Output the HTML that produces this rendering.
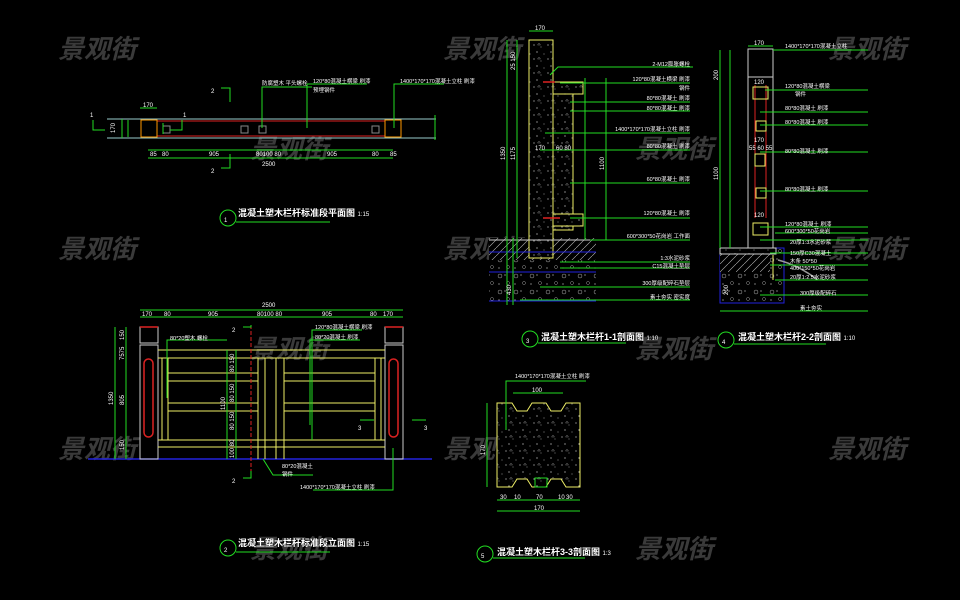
<!DOCTYPE html>
<html><head><meta charset="utf-8"><style>
html,body{margin:0;padding:0;background:#000;width:960px;height:600px;overflow:hidden}
svg{display:block}
text{font-family:"Liberation Sans","Noto Sans CJK SC",sans-serif}
.wm{font-size:26px;fill:#6a6a6a;fill-opacity:.55;font-style:italic;font-weight:bold;font-family:"Liberation Sans","Noto Sans CJK SC",sans-serif}
.t{font-size:5.5px;fill:#fff}
.d{font-size:6px;fill:#fff}
.ti{font-size:9px;fill:#fff;font-weight:bold}
</style></head><body>
<svg width="960" height="600" viewBox="0 0 960 600" xmlns="http://www.w3.org/2000/svg">
<defs>
<pattern id="sp" width="14" height="14" patternUnits="userSpaceOnUse">
<rect width="14" height="14" fill="#000"/>
<circle cx="2" cy="3" r=".6" fill="#ccc"/><circle cx="9" cy="5" r=".5" fill="#aaa"/>
<circle cx="5" cy="10" r=".6" fill="#ddd"/><circle cx="12" cy="12" r=".5" fill="#bbb"/>
<path d="M7 1 l1.5 2 h-3z" fill="none" stroke="#999" stroke-width=".4"/>
</pattern>
<pattern id="gr" width="16" height="16" patternUnits="userSpaceOnUse">
<rect width="16" height="16" fill="#000"/>
<circle cx="4" cy="4" r="2" fill="none" stroke="#aaa" stroke-width=".5"/>
<circle cx="12" cy="11" r="1.5" fill="none" stroke="#999" stroke-width=".5"/>
<circle cx="9" cy="3" r=".6" fill="#ccc"/><circle cx="3" cy="12" r=".6" fill="#ccc"/>
</pattern>
<pattern id="hx" width="8" height="8" patternUnits="userSpaceOnUse">
<rect width="8" height="8" fill="#000"/><path d="M0 8 L8 0" stroke="#bbb" stroke-width=".6"/>
</pattern>
</defs>

<!-- watermarks -->
<g class="wm">
<text x="58" y="58">景观街</text><text x="443" y="58">景观街</text><text x="828" y="58">景观街</text>
<text x="250" y="158">景观街</text><text x="635" y="158">景观街</text>
<text x="58" y="258">景观街</text><text x="443" y="258">景观街</text><text x="828" y="258">景观街</text>
<text x="250" y="358">景观街</text><text x="635" y="358">景观街</text>
<text x="58" y="458">景观街</text><text x="443" y="458">景观街</text><text x="828" y="458">景观街</text>
<text x="250" y="558">景观街</text><text x="635" y="558">景观街</text>
</g>

<!-- ===== Drawing 1: plan ===== -->
<g fill="none" stroke-width="1">
<line x1="107" y1="119" x2="436" y2="119" stroke="#9cc"/>
<line x1="107" y1="138" x2="436" y2="138" stroke="#9cc"/>
<rect x="157" y="121" width="228" height="15" stroke="#d22"/>
<rect x="141" y="120" width="16" height="17" stroke="#f90"/>
<rect x="385" y="120" width="16" height="17" stroke="#f90"/>
<rect x="163" y="126" width="7" height="7" stroke="#888"/>
<rect x="241" y="126" width="7" height="7" stroke="#888"/>
<rect x="259" y="126" width="7" height="7" stroke="#888"/>
<rect x="372" y="126" width="7" height="7" stroke="#888"/>
<g stroke="#2d2">
<path d="M93 120 v10 h12"/><path d="M170 130 h12 v-10"/>
<path d="M221 88 h9 v14"/><path d="M221 168 h9 v-14"/>
<line x1="148" y1="150" x2="393" y2="150"/><line x1="148" y1="158" x2="393" y2="158"/>
<line x1="140" y1="108" x2="157" y2="108"/>
<line x1="122" y1="119" x2="122" y2="138"/><line x1="128" y1="120" x2="128" y2="137"/>
<path d="M262 128 V87 h50"/><path d="M307 128 V84 h60"/><path d="M394 128 V84 h50"/>
<line x1="163" y1="123" x2="163" y2="134"/>
<line x1="435" y1="115" x2="435" y2="140"/>
</g>
<circle cx="228" cy="218" r="8" stroke="#2d2"/>
<line x1="236" y1="222" x2="330" y2="222" stroke="#2d2"/>
</g>
<g class="d">
<text x="90" y="117">1</text><text x="183" y="117">1</text><text x="211" y="93">2</text><text x="211" y="173">2</text>
<text x="143" y="107">170</text><text x="115" y="133" transform="rotate(-90 115 133)">170</text>
<text x="150" y="156">85</text><text x="162" y="156">80</text><text x="209" y="156">905</text>
<text x="256" y="156">80100 80</text><text x="327" y="156">905</text><text x="372" y="156">80</text><text x="390" y="156">85</text>
<text x="262" y="166">2500</text>
</g>
<g class="t"><text x="262" y="85">防腐塑木 平头螺栓</text><text x="313" y="83">120*80混凝土横梁 刷漆</text><text x="313" y="92">预埋钢件</text><text x="400" y="83">1400*170*170混凝土立柱 刷漆</text></g>
<text class="ti" x="238" y="216">混凝土塑木栏杆标准段平面图 <tspan font-size="6" font-weight="normal">1:15</tspan></text>
<text class="d" x="224" y="222" font-size="11">1</text>

<!-- ===== Drawing 2: elevation ===== -->
<g fill="none" stroke-width="1">
<line x1="88" y1="459" x2="432" y2="459" stroke="#22d" stroke-width="1.5"/>
<rect x="140" y="327" width="18" height="16" stroke="#ccc"/>
<line x1="140" y1="327" x2="158" y2="327" stroke="#d22" stroke-width="1.5"/>
<rect x="385" y="327" width="18" height="16" stroke="#ccc"/>
<line x1="385" y1="327" x2="403" y2="327" stroke="#d22" stroke-width="1.5"/>
<rect x="140" y="345" width="18" height="114" stroke="#ccc"/>
<rect x="385" y="345" width="18" height="114" stroke="#ccc"/>
<rect x="144" y="359" width="9" height="78" rx="4.5" stroke="#d22" stroke-width="1.5"/>
<rect x="389" y="359" width="9" height="78" rx="4.5" stroke="#d22" stroke-width="1.5"/>
<g stroke="#ee6">
<line x1="158" y1="350" x2="385" y2="350"/><line x1="158" y1="358" x2="385" y2="358"/>
<line x1="168" y1="373" x2="258" y2="373"/><line x1="284" y1="373" x2="375" y2="373"/>
<line x1="168" y1="381" x2="258" y2="381"/><line x1="284" y1="381" x2="375" y2="381"/>
<line x1="168" y1="403" x2="258" y2="403"/><line x1="284" y1="403" x2="375" y2="403"/>
<line x1="168" y1="411" x2="258" y2="411"/><line x1="284" y1="411" x2="375" y2="411"/>
<line x1="158" y1="440" x2="385" y2="440"/><line x1="158" y1="447" x2="385" y2="447"/>
<line x1="162" y1="358" x2="162" y2="440"/><line x1="168" y1="358" x2="168" y2="440"/>
<line x1="258" y1="358" x2="258" y2="459"/><line x1="265" y1="358" x2="265" y2="459"/>
<line x1="276" y1="358" x2="276" y2="459"/><line x1="284" y1="358" x2="284" y2="459"/>
<line x1="375" y1="358" x2="375" y2="440"/><line x1="381" y1="358" x2="381" y2="440"/>
</g>
<line x1="251" y1="325" x2="251" y2="478" stroke="#d22" stroke-dasharray="4 2"/>
<g stroke="#2d2">
<path d="M243 327 h8 v-2"/><path d="M243 478 h8 v-7"/>
<path d="M360 420 h14"/><path d="M412 420 h14"/>
<line x1="140" y1="317" x2="403" y2="317"/><line x1="140" y1="310" x2="403" y2="310"/>
<line x1="115" y1="327" x2="115" y2="459"/><line x1="126" y1="327" x2="126" y2="459"/>
<line x1="227" y1="350" x2="227" y2="459"/><line x1="236" y1="350" x2="236" y2="459"/>
<path d="M167 398 V340 h60"/><path d="M312 440 V330 h50"/><path d="M310 425 V340 h50"/>
<path d="M263 459 l10 16 h40"/><path d="M393 448 V490 h-80"/>
</g>
<circle cx="228" cy="548" r="8" stroke="#2d2"/>
<line x1="236" y1="552" x2="330" y2="552" stroke="#2d2"/>
</g>
<g class="d">
<text x="262" y="307">2500</text><text x="142" y="316">170</text><text x="164" y="316">80</text><text x="208" y="316">905</text>
<text x="257" y="316">80100 80</text><text x="322" y="316">905</text><text x="370" y="316">80</text><text x="383" y="316">170</text>
<text x="232" y="332">2</text><text x="232" y="483">2</text><text x="358" y="430">3</text><text x="424" y="430">3</text>
<text x="113" y="405" transform="rotate(-90 113 405)">1350</text>
<text x="124" y="405" transform="rotate(-90 124 405)">805</text>
<text x="124" y="340" transform="rotate(-90 124 340)">150</text>
<text x="124" y="360" transform="rotate(-90 124 360)">7575</text>
<text x="124" y="450" transform="rotate(-90 124 450)">150</text>
<text x="225" y="410" transform="rotate(-90 225 410)">1100</text>
<text x="234" y="372" transform="rotate(-90 234 372)">80 150</text>
<text x="234" y="402" transform="rotate(-90 234 402)">80 150</text>
<text x="234" y="430" transform="rotate(-90 234 430)">80 150</text>
<text x="234" y="458" transform="rotate(-90 234 458)">100 80</text>
</g>
<g class="t"><text x="170" y="340">80*20塑木 螺栓</text><text x="315" y="329">120*80混凝土横梁 刷漆</text><text x="315" y="339">80*20混凝土 刷漆</text>
<text x="282" y="468">80*20混凝土</text><text x="282" y="476">钢件</text><text x="300" y="489">1400*170*170混凝土立柱 刷漆</text></g>
<text class="ti" x="238" y="546">混凝土塑木栏杆标准段立面图 <tspan font-size="6" font-weight="normal">1:15</tspan></text>
<text class="d" x="224" y="552" font-size="11">2</text>

<!-- ===== Drawing 3: section 1-1 ===== -->
<g fill="none" stroke-width="1">
<rect x="489" y="238" width="107" height="66" fill="url(#gr)"/>
<rect x="489" y="238" width="107" height="22" fill="url(#hx)"/>
<rect x="529" y="40" width="24" height="218" fill="url(#sp)" stroke="#ee6"/>
<rect x="553" y="82" width="20" height="148" fill="url(#sp)" stroke="#ee6"/>
<rect x="553" y="82" width="30" height="12" fill="url(#sp)" stroke="#ee6"/>
<rect x="553" y="214" width="30" height="12" fill="url(#sp)" stroke="#ee6"/>
<line x1="543" y1="82" x2="555" y2="82" stroke="#d22" stroke-width="1.5"/>
<line x1="543" y1="218" x2="560" y2="218" stroke="#d22" stroke-width="1.5"/>
<line x1="489" y1="240" x2="596" y2="240" stroke="#ccc"/>
<line x1="489" y1="252" x2="596" y2="252" stroke="#22d"/>
<line x1="489" y1="272" x2="596" y2="272" stroke="#22d"/>
<line x1="489" y1="301" x2="596" y2="301" stroke="#22d"/>
<g stroke="#2d2">
<line x1="529" y1="31" x2="553" y2="31"/>
<line x1="507" y1="40" x2="507" y2="305"/><line x1="517" y1="40" x2="517" y2="258"/><line x1="513" y1="238" x2="513" y2="305"/>
<line x1="585" y1="78" x2="585" y2="240"/><line x1="606" y1="78" x2="606" y2="240"/>
<path d="M550 75 l8-8 h135"/>
<line x1="560" y1="83" x2="690" y2="83"/><line x1="570" y1="102" x2="690" y2="102"/>
<line x1="570" y1="111" x2="690" y2="111"/><line x1="545" y1="133" x2="690" y2="133"/>
<line x1="540" y1="150" x2="690" y2="150"/><line x1="570" y1="183" x2="690" y2="183"/>
<line x1="570" y1="218" x2="690" y2="218"/><line x1="590" y1="240" x2="690" y2="240"/>
<line x1="560" y1="262" x2="690" y2="262"/><line x1="560" y1="268" x2="690" y2="268"/>
<line x1="540" y1="287" x2="690" y2="287"/><line x1="520" y1="300" x2="690" y2="300"/>
</g>
<circle cx="530" cy="339" r="8" stroke="#2d2"/>
<line x1="538" y1="343" x2="626" y2="343" stroke="#2d2"/>
</g>
<g class="d">
<text x="535" y="30">170</text>
<text x="505" y="160" transform="rotate(-90 505 160)">1350</text>
<text x="515" y="160" transform="rotate(-90 515 160)">1175</text>
<text x="604" y="170" transform="rotate(-90 604 170)">1100</text>
<text x="535" y="150">170</text><text x="556" y="150">60 80</text>
<text x="515" y="70" transform="rotate(-90 515 70)">25 150</text>
<text x="511" y="295" transform="rotate(-90 511 295)">430</text>
</g>
<g class="t" text-anchor="end">
<text x="690" y="66">2-M12膨胀螺栓</text><text x="690" y="81">120*80混凝土横梁 刷漆</text><text x="690" y="90">钢件</text>
<text x="690" y="100">80*80混凝土 刷漆</text><text x="690" y="110">80*80混凝土 刷漆</text><text x="690" y="131">1400*170*170混凝土立柱 刷漆</text>
<text x="690" y="148">80*80混凝土 刷漆</text><text x="690" y="181">60*80混凝土 刷漆</text><text x="690" y="215">120*80混凝土 刷漆</text>
<text x="690" y="238">600*300*50花岗岩 工作面</text><text x="690" y="260">1:3水泥砂浆</text><text x="690" y="268">C15混凝土垫层</text>
<text x="690" y="285">300厚级配碎石垫层</text><text x="690" y="299">素土夯实 密实度</text>
</g>
<text class="ti" x="541" y="340">混凝土塑木栏杆1-1剖面图 <tspan font-size="6" font-weight="normal">1:10</tspan></text>
<text class="d" x="526" y="343" font-size="11">3</text>

<!-- ===== Drawing 4: section 2-2 ===== -->
<g fill="none" stroke-width="1">
<rect x="720" y="248" width="64" height="55" fill="url(#gr)" stroke="#22d"/>
<rect x="720" y="250" width="50" height="22" fill="url(#hx)"/>
<rect x="720" y="248" width="56" height="6" fill="url(#sp)" stroke="#ccc"/>
<rect x="748" y="49" width="25" height="28" stroke="#ccc"/>
<rect x="748" y="77" width="25" height="171" stroke="#ccc"/>
<line x1="755" y1="85" x2="755" y2="218" stroke="#d22"/><line x1="766" y1="85" x2="766" y2="218" stroke="#d22"/>
<rect x="753" y="87" width="15" height="12" stroke="#ee6"/>
<rect x="756" y="121" width="10" height="10" stroke="#ee6"/>
<rect x="755" y="154" width="10" height="12" stroke="#ee6"/>
<rect x="756" y="188" width="10" height="10" stroke="#ee6"/>
<rect x="753" y="223" width="15" height="12" stroke="#ee6"/>
<line x1="773" y1="255" x2="773" y2="280" stroke="#ee6"/>
<path d="M778 260 q20 5 40 20" stroke="#999" stroke-width="1.5"/>
<g stroke="#2d2">
<line x1="748" y1="46" x2="773" y2="46"/><line x1="720" y1="50" x2="720" y2="248"/><line x1="730" y1="50" x2="730" y2="248"/>
<line x1="773" y1="50" x2="868" y2="50"/><line x1="765" y1="90" x2="868" y2="90"/><line x1="760" y1="112" x2="868" y2="112"/>
<line x1="760" y1="125" x2="868" y2="125"/><line x1="760" y1="152" x2="868" y2="152"/><line x1="760" y1="191" x2="868" y2="191"/>
<line x1="760" y1="227" x2="868" y2="227"/><line x1="775" y1="233" x2="868" y2="233"/><line x1="760" y1="240" x2="868" y2="240"/>
<line x1="770" y1="253" x2="868" y2="253"/><line x1="770" y1="265" x2="868" y2="265"/><line x1="775" y1="280" x2="868" y2="280"/>
<line x1="760" y1="295" x2="868" y2="295"/><line x1="720" y1="311" x2="868" y2="311"/>
</g>
<circle cx="726" cy="340" r="8" stroke="#2d2"/>
<line x1="734" y1="344" x2="826" y2="344" stroke="#2d2"/>
</g>
<g class="d">
<text x="754" y="45">170</text><text x="754" y="84">120</text><text x="754" y="142">170</text><text x="749" y="150">55 60 55</text><text x="754" y="217">120</text>
<text x="718" y="180" transform="rotate(-90 718 180)">1100</text>
<text x="718" y="80" transform="rotate(-90 718 80)">200</text>
<text x="728" y="295" transform="rotate(-90 728 295)">200</text>
</g>
<g class="t">
<text x="785" y="48">1400*170*170混凝土立柱</text><text x="785" y="88">120*80混凝土横梁</text><text x="795" y="96">钢件</text>
<text x="785" y="110">80*80混凝土 刷漆</text><text x="785" y="124">80*80混凝土 刷漆</text><text x="785" y="153">80*80混凝土 刷漆</text>
<text x="785" y="191">80*80混凝土 刷漆</text><text x="785" y="226">120*80混凝土 刷漆</text><text x="785" y="233">600*300*50花岗岩</text>
<text x="790" y="244">20厚1:3水泥砂浆</text><text x="790" y="255">150厚C30混凝土</text><text x="790" y="263">木条 50*50</text><text x="790" y="270">400*150*50花岗岩</text>
<text x="790" y="279">20厚1:2.5水泥砂浆</text><text x="800" y="295">300厚级配碎石</text><text x="800" y="310">素土夯实</text>
</g>
<text class="ti" x="738" y="340">混凝土塑木栏杆2-2剖面图 <tspan font-size="6" font-weight="normal">1:10</tspan></text>
<text class="d" x="722" y="344" font-size="11">4</text>

<!-- ===== Drawing 5: section 3-3 ===== -->
<g fill="none" stroke-width="1">
<path d="M497 403 H512 L517 411 H527 L532 403 H546 L551 411 H561 L566 403 H580 V487 H566 L561 479 H551 L546 487 H532 L527 479 H517 L512 487 H497 Z" transform="translate(0,0)" fill="url(#sp)" stroke="#ee6"/>
<g stroke="#2d2">
<line x1="487" y1="403" x2="487" y2="487"/><line x1="513" y1="393" x2="563" y2="393"/>
<path d="M506 430 V381 h80"/>
<line x1="497" y1="500" x2="580" y2="500"/><line x1="497" y1="511" x2="580" y2="511"/>
<rect x="535" y="478" width="12" height="9"/>
</g>
<circle cx="485" cy="554" r="8" stroke="#2d2"/>
<line x1="493" y1="558" x2="585" y2="558" stroke="#2d2"/>
</g>
<g class="d">
<text x="532" y="392">100</text><text x="534" y="510">170</text>
<text x="500" y="499">30</text><text x="514" y="499">10</text><text x="536" y="499">70</text><text x="558" y="499">10</text><text x="566" y="499">30</text>
<text x="485" y="455" transform="rotate(-90 485 455)">170</text>
</g>
<text class="t" x="515" y="378">1400*170*170混凝土立柱 刷漆</text>
<text class="ti" x="497" y="555">混凝土塑木栏杆3-3剖面图 <tspan font-size="6" font-weight="normal">1:3</tspan></text>
<text class="d" x="481" y="558" font-size="11">5</text>
</svg>
</body></html>
